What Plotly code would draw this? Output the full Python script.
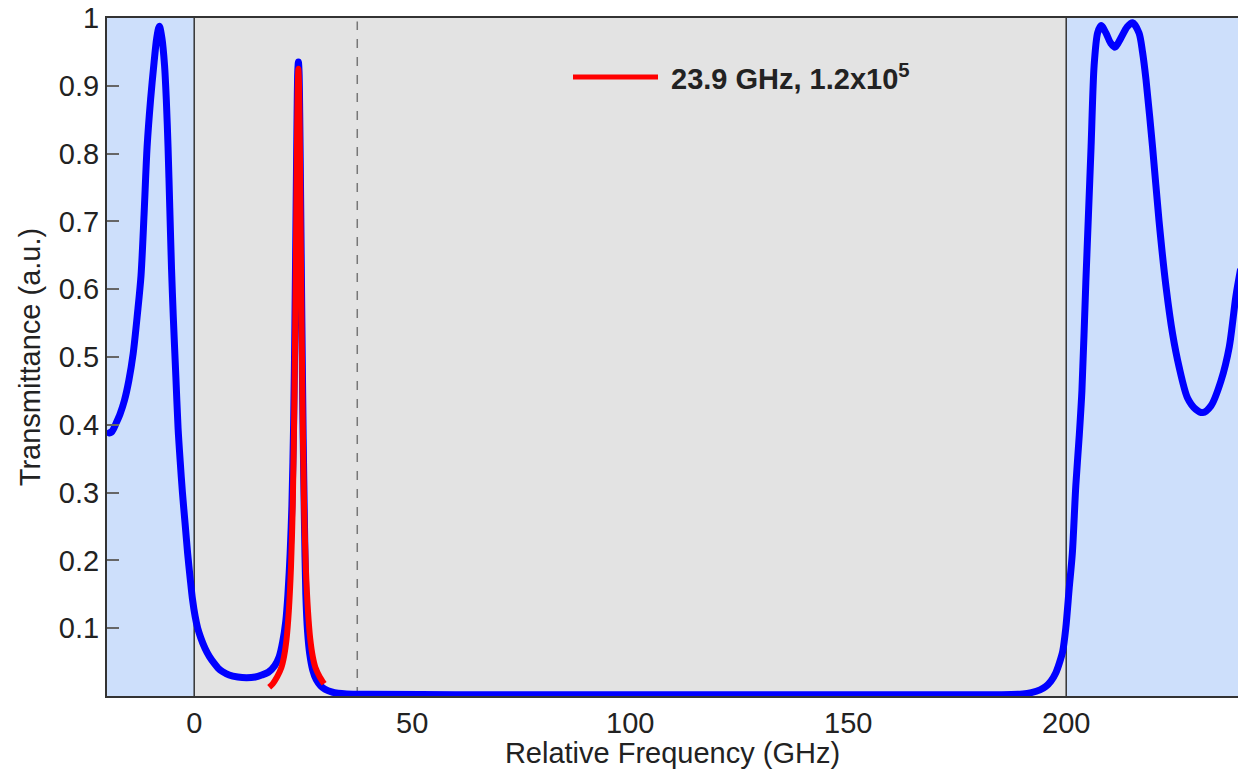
import plotly.graph_objects as go

# ---------------- data ----------------
blue_x = [-20, -19.5, -19, -18.5, -18, -17, -16, -15, -14, -13, -12.2, -11.5, -10.8, -10, -9.2, -8.6, -8,
          -7.4, -6.8, -6.4, -6, -5.6, -5.2, -4.8, -4.2, -3.7, -3.2, -2.7, -2.1, -1.5, -0.9, -0.4, 0.2, 0.8, 1.5,
          2.5, 3.5, 4.6, 5.5, 6.5, 8, 10, 12, 14, 15.5, 17, 18.5, 19.5, 20.3, 21, 21.5, 22, 22.4, 22.8, 23.1,
          23.4, 23.6, 23.75, 23.9, 24.05, 24.2, 24.4, 24.7, 25.0, 25.3, 25.6, 26.0, 26.5, 27.2, 28, 29, 30, 31.5,
          33, 35, 40, 60, 100, 150, 180, 185, 190, 192, 194, 195.3, 196.5, 197.6, 198.5, 199.2, 199.9, 200.7,
          201.4, 202.2, 203, 203.6, 204.5, 205.1, 205.7, 206.4, 207.2, 208, 209.1, 210.2, 211.2, 212.5, 214,
          215.2, 216.7, 217.5, 218.3, 219.8, 221.3, 222.9, 224.4, 225.9, 227.8, 229.7, 231.3, 233.2, 235.5,
          237.4, 238.9, 240]
blue_y = [0.392, 0.388, 0.389, 0.394, 0.401, 0.416, 0.436, 0.465, 0.505, 0.565, 0.62, 0.71, 0.81, 0.88,
          0.935, 0.97, 0.988, 0.97, 0.93, 0.88, 0.81, 0.72, 0.63, 0.56, 0.47, 0.395, 0.345, 0.30, 0.255, 0.21,
          0.172, 0.143, 0.118, 0.10, 0.086, 0.07, 0.058, 0.048, 0.041, 0.036, 0.031, 0.028, 0.027, 0.028, 0.031,
          0.035, 0.045, 0.058, 0.08, 0.11, 0.15, 0.21, 0.28, 0.40, 0.55, 0.74, 0.86, 0.92, 0.935, 0.92, 0.86,
          0.74, 0.55, 0.38, 0.25, 0.15, 0.095, 0.062, 0.038, 0.024, 0.015, 0.01, 0.006, 0.004, 0.003, 0.0025,
          0.002, 0.002, 0.002, 0.002, 0.002, 0.003, 0.005, 0.009, 0.014, 0.022, 0.034, 0.05, 0.066, 0.10, 0.16,
          0.21, 0.31, 0.385, 0.45, 0.61, 0.71, 0.81, 0.93, 0.978, 0.989, 0.978, 0.963, 0.957, 0.97, 0.987,
          0.993, 0.978, 0.95, 0.909, 0.81, 0.70, 0.603, 0.534, 0.485, 0.44, 0.423, 0.418, 0.428, 0.465,
          0.515, 0.589, 0.63]

fit_x = [17.2, 18, 19, 20, 20.6, 21.2, 21.7, 22.2, 22.6, 23.0, 23.3, 23.55, 23.75, 23.9, 24.05, 24.25, 24.5,
         24.8, 25.2, 25.6, 26.1, 26.6, 27.2, 27.8, 28.8, 29.8]
fit_y = [0.013, 0.018, 0.028, 0.042, 0.058, 0.085, 0.125, 0.19, 0.28, 0.45, 0.63, 0.80, 0.90, 0.925, 0.90,
         0.80, 0.63, 0.45, 0.28, 0.19, 0.125, 0.085, 0.058, 0.042, 0.028, 0.018]

fit_label = "23.9 GHz, 1.2x10<sup>5</sup>"

band_edges = [-20, 0, 200, 240]
dashed_x = 37.4

y_ticks = [0.1, 0.2, 0.3, 0.4, 0.5, 0.6, 0.7, 0.8, 0.9, 1.0]
y_tick_text = ["0.1", "0.2", "0.3", "0.4", "0.5", "0.6", "0.7", "0.8", "0.9", "1"]
x_ticks = [0, 50, 100, 150, 200]
x_tick_text = ["0", "50", "100", "150", "200"]

# ---------------- figure ----------------
FONT = "Liberation Sans, Arial, Helvetica, sans-serif"
BLUE_BG = "#cddffb"
GRAY_BG = "#e3e3e3"

fig = go.Figure()
fig.add_trace(go.Scatter(x=blue_x, y=blue_y, mode="lines",
                         line=dict(color="#0000ff", width=7, shape="spline", smoothing=0.8),
                         showlegend=False, hoverinfo="skip"))
fig.add_trace(go.Scatter(x=fit_x, y=fit_y, mode="lines", name=fit_label,
                         line=dict(color="#ff0000", width=6, shape="spline", smoothing=0.8),
                         showlegend=False))

shapes = [
    dict(type="rect", xref="x", yref="y", x0=band_edges[0], x1=band_edges[1], y0=0, y1=1,
         fillcolor=BLUE_BG, line=dict(width=0), layer="below"),
    dict(type="rect", xref="x", yref="y", x0=band_edges[1], x1=band_edges[2], y0=0, y1=1,
         fillcolor=GRAY_BG, line=dict(width=0), layer="below"),
    dict(type="rect", xref="x", yref="y", x0=band_edges[2], x1=band_edges[3], y0=0, y1=1,
         fillcolor=BLUE_BG, line=dict(width=0), layer="below"),
    dict(type="line", xref="x", yref="y", x0=band_edges[1], x1=band_edges[1], y0=0, y1=1,
         line=dict(color="#333333", width=1.5), layer="below"),
    dict(type="line", xref="x", yref="y", x0=band_edges[2], x1=band_edges[2], y0=0, y1=1,
         line=dict(color="#333333", width=1.5), layer="below"),
    dict(type="line", xref="x", yref="y", x0=dashed_x, x1=dashed_x, y0=0, y1=0.995,
         line=dict(color="#777777", width=1.5, dash="dash"), layer="below"),
    # legend sample
    dict(type="line", xref="paper", yref="paper", x0=(573 - 107) / 1131, x1=(658 - 107) / 1131,
         y0=(696 - 77) / 678, y1=(696 - 77) / 678, line=dict(color="#ff0000", width=5)),
]

fig.update_layout(
    width=1238, height=769,
    margin=dict(l=107, r=0, t=18, b=73),
    paper_bgcolor="white", plot_bgcolor="white",
    font=dict(family=FONT, size=29, color="#222222"),
    shapes=shapes,
    annotations=[dict(xref="paper", yref="paper", x=(669 - 107) / 1131, y=(696 - 77) / 678,
                      text="<b>" + fit_label + "</b>", showarrow=False, xanchor="left", yanchor="middle",
                      font=dict(family=FONT, size=29, color="#222222"))],
    xaxis=dict(range=[-20, 239.4], tickvals=x_ticks, ticktext=x_tick_text, ticks="",
               showgrid=False, zeroline=False, showline=True, linecolor="#333333", linewidth=2,
               mirror=True,
               title=dict(text="Relative Frequency (GHz)", font=dict(family=FONT, size=29), standoff=8)),
    yaxis=dict(range=[0, 1], tickvals=y_ticks, ticktext=y_tick_text, ticks="inside", ticklen=12,
               tickwidth=2, tickcolor="#666666", showgrid=False, zeroline=False, showline=True,
               linecolor="#333333", linewidth=2,
               title=dict(text="Transmittance (a.u.)", font=dict(family=FONT, size=29), standoff=10)),
)

fig.write_html("out.html")
